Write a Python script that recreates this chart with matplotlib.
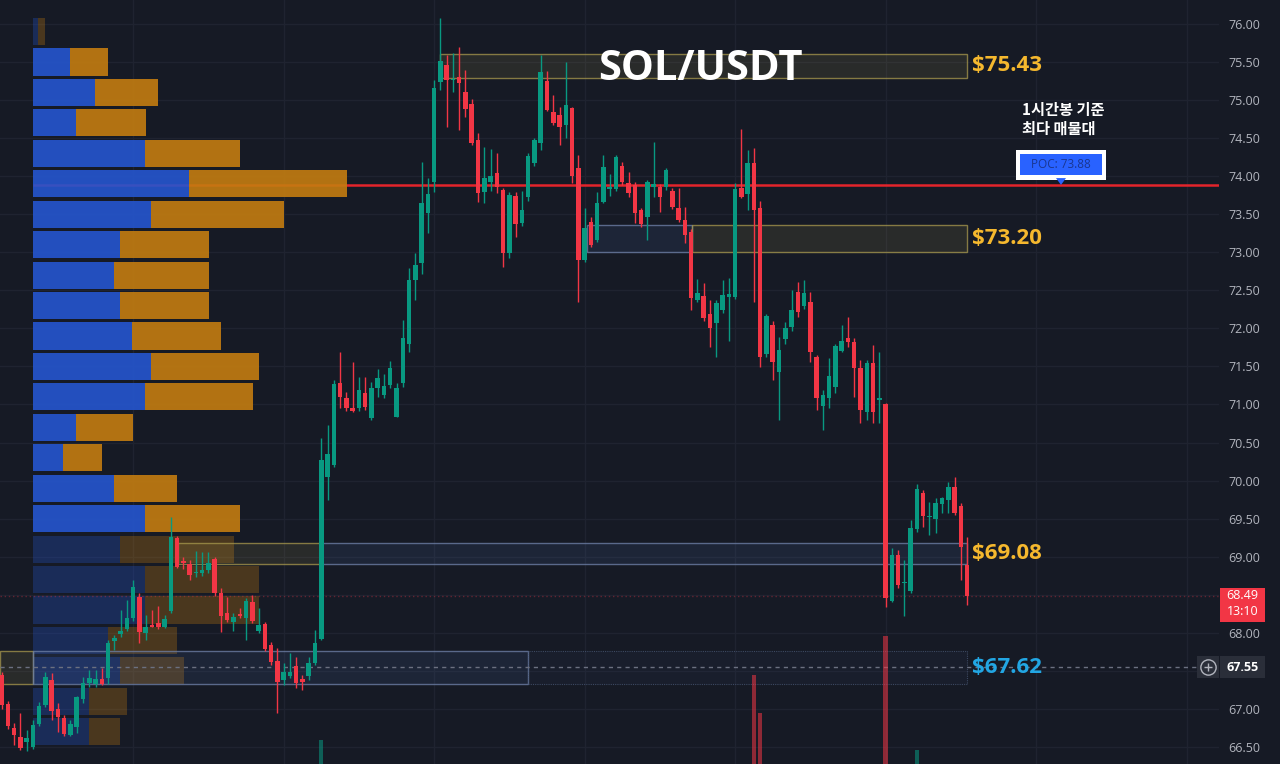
import numpy as np
import matplotlib.pyplot as plt
from matplotlib.patches import Rectangle, Polygon
from matplotlib.transforms import blended_transform_factory

OUT_PATH = "out.png"

BG = "#161a25"
GRID = "#1f2330"
UP = "#089981"
DOWN = "#f23645"
GOLD = "#f5b82e"
SKY = "#22a6e3"
AXIS_TEXT = "#b2b5be"

# 1h candles, oldest first
opens = [
    67.45, 67.06, 66.75, 66.63, 66.56, 66.50, 66.80, 67.05, 67.38, 67.00,
    66.88, 66.66, 66.76, 67.13, 67.34, 67.33, 67.39, 67.40, 67.89, 67.99,
    68.05, 68.20, 68.47, 68.00, 68.10, 68.13, 68.07, 68.29, 69.24, 68.95,
    68.91, 68.78, 68.79, 68.83, 68.97, 68.52, 68.26, 68.14, 68.25, 68.20,
    68.41, 68.02, 68.12, 67.84, 67.63, 67.38, 67.43, 67.56, 67.39, 67.43,
    67.60, 67.92, 70.05, 70.21, 71.28, 71.08, 70.95, 70.95, 71.15, 70.82,
    71.22, 71.13, 71.26, 70.84, 71.28, 71.80, 72.63, 72.86, 73.52, 73.92,
    75.24, 75.46, 75.26, 75.30, 75.11, 74.95, 74.47, 73.79, 73.92, 74.04,
    73.82, 72.99, 73.74, 73.39, 73.72, 74.17, 74.44, 75.25, 74.84, 74.80,
    74.67, 74.90, 74.11, 72.90, 73.40, 73.16, 73.66, 73.83, 73.83, 74.13,
    73.91, 73.88, 73.55, 73.46, 73.86, 73.86, 73.86, 73.81, 73.58, 73.42,
    73.27, 72.37, 72.42, 72.19, 72.07, 72.24, 72.41, 72.41, 73.85, 73.77,
    74.17, 73.58, 71.66, 72.05, 71.43, 71.86, 72.02, 72.48, 72.29, 72.35,
    71.62, 70.98, 71.08, 71.23, 71.70, 71.87, 71.82, 71.48, 70.90, 71.55,
    71.06, 71.00, 68.42, 69.02, 68.65, 68.55, 69.36, 69.84, 69.52, 69.50,
    69.69, 69.75, 69.92, 69.66, 68.89,
]
highs = [
    67.48, 67.10, 66.81, 66.95, 66.72, 66.85, 67.09, 67.49, 67.47, 67.08,
    66.92, 66.85, 67.17, 67.42, 67.51, 67.51, 67.54, 67.90, 67.97, 68.30,
    68.43, 68.70, 68.52, 68.23, 68.30, 68.35, 68.23, 69.52, 69.27, 68.99,
    68.96, 69.07, 69.06, 69.06, 69.00, 68.59, 68.47, 68.26, 68.33, 68.46,
    68.50, 68.33, 68.14, 67.88, 67.80, 67.60, 67.73, 67.68, 67.45, 67.68,
    68.04, 70.56, 70.73, 71.32, 71.69, 71.17, 71.56, 71.36, 71.36, 71.30,
    71.46, 71.40, 71.57, 71.28, 72.11, 72.80, 72.99, 74.18, 73.97, 75.26,
    76.08, 75.59, 75.62, 75.70, 75.40, 75.02, 74.57, 74.38, 74.36, 74.30,
    73.85, 73.79, 73.79, 73.80, 74.31, 74.50, 75.59, 75.38, 75.07, 74.91,
    75.50, 74.91, 74.28, 73.58, 73.46, 73.79, 74.28, 74.03, 74.28, 74.18,
    74.05, 73.92, 73.58, 73.95, 74.45, 73.90, 74.11, 73.85, 73.84, 73.59,
    73.30, 72.65, 72.60, 72.37, 72.37, 72.63, 72.66, 73.91, 74.62, 74.34,
    74.37, 73.68, 72.19, 72.10, 71.89, 72.09, 72.50, 72.61, 72.63, 72.48,
    71.65, 71.19, 71.61, 71.79, 72.04, 72.15, 71.87, 71.59, 71.58, 71.78,
    71.69, 71.02, 69.11, 69.09, 68.96, 69.48, 69.95, 69.88, 69.72, 69.77,
    69.78, 69.98, 70.05, 69.70, 69.26,
]
lows = [
    67.00, 66.74, 66.53, 66.46, 66.45, 66.47, 66.78, 67.03, 66.86, 66.70,
    66.65, 66.64, 66.68, 67.08, 67.29, 67.29, 67.32, 67.33, 67.77, 67.95,
    68.02, 68.15, 67.87, 67.91, 68.07, 68.05, 68.06, 68.26, 68.85, 68.84,
    68.70, 68.73, 68.75, 68.78, 68.49, 68.01, 68.14, 68.03, 68.19, 67.91,
    68.13, 68.00, 67.76, 67.58, 66.95, 67.31, 67.40, 67.27, 67.25, 67.38,
    67.58, 67.91, 69.75, 70.18, 70.95, 70.91, 70.90, 70.92, 70.93, 70.80,
    71.10, 71.09, 71.22, 70.83, 71.23, 71.69, 72.37, 72.72, 73.25, 73.79,
    75.13, 74.65, 75.11, 74.61, 74.78, 74.41, 73.66, 73.65, 73.80, 73.78,
    72.81, 72.92, 73.20, 73.34, 73.68, 74.14, 74.34, 74.85, 74.67, 74.41,
    74.50, 73.91, 72.35, 72.87, 73.07, 73.13, 73.65, 73.74, 73.80, 73.88,
    73.72, 73.38, 73.33, 73.16, 73.72, 73.53, 73.82, 73.57, 73.40, 73.12,
    72.24, 72.35, 72.10, 71.75, 71.62, 72.20, 71.84, 72.39, 73.71, 73.55,
    72.35, 71.49, 71.63, 71.32, 70.80, 71.80, 71.97, 72.15, 72.26, 71.56,
    70.93, 70.66, 70.96, 71.15, 71.69, 71.75, 71.10, 70.76, 70.80, 70.76,
    70.76, 68.34, 68.40, 68.59, 68.22, 68.52, 69.32, 69.39, 69.28, 69.31,
    69.58, 69.58, 69.55, 68.70, 68.36,
]
closes = [
    67.05, 66.78, 66.66, 66.49, 66.62, 66.79, 67.04, 67.42, 66.97, 66.89,
    66.67, 66.80, 67.15, 67.34, 67.41, 67.39, 67.33, 67.86, 67.93, 68.03,
    68.20, 68.60, 68.01, 68.08, 68.08, 68.07, 68.18, 69.26, 68.87, 68.92,
    68.76, 68.80, 68.83, 68.92, 68.52, 68.22, 68.17, 68.21, 68.22, 68.42,
    68.15, 68.10, 67.79, 67.62, 67.35, 67.48, 67.48, 67.34, 67.35, 67.60,
    67.87, 70.27, 70.35, 71.27, 71.10, 70.95, 70.92, 71.19, 70.97, 71.22,
    71.35, 71.24, 71.48, 71.22, 71.87, 72.63, 72.83, 73.65, 73.76, 75.16,
    75.51, 75.26, 75.28, 75.22, 74.88, 74.43, 73.78, 73.98, 74.00, 73.86,
    72.99, 73.75, 73.37, 73.56, 74.27, 74.47, 75.37, 74.87, 74.70, 74.64,
    74.93, 74.00, 72.90, 73.32, 73.10, 73.65, 74.12, 73.86, 74.25, 73.92,
    73.78, 73.51, 73.37, 73.92, 73.90, 73.73, 74.08, 73.59, 73.42, 73.23,
    72.40, 72.46, 72.13, 72.01, 72.33, 72.44, 72.45, 73.83, 73.72, 74.17,
    73.55, 71.62, 72.16, 71.56, 71.72, 72.01, 72.24, 72.21, 72.46, 71.69,
    71.09, 71.12, 71.37, 71.77, 71.83, 71.82, 71.48, 70.93, 71.55, 70.90,
    71.09, 68.46, 69.02, 68.63, 68.67, 69.38, 69.89, 69.53, 69.54, 69.70,
    69.77, 69.92, 69.58, 69.13, 68.49,
]

# candle index of each day start (vertical grid)
day_starts = [21, 45, 69, 93, 117, 141, 165, 189]

# volume spikes that reach into the visible price area
vol_idx = [51, 120, 121, 141, 146]
vol_k = [31, 117, 67, 168, 18]

# volume profile rows, top row first (0.4 per row from 76.10)
vp_top = 76.10
vp_step = 0.4
vp_buy = [5, 37, 62, 43, 112, 156, 118, 87, 81, 87, 99, 118,
          112, 43, 30, 81, 112, 87, 112, 112, 75, 87, 56, 56]
vp_sell = [7, 38, 63, 70, 95, 158, 133, 89, 95, 89, 89, 108,
           108, 57, 39, 63, 95, 114, 114, 114, 69, 64, 38, 31]
va_high = 75.70
va_low = 69.30

poc_price = 73.88
last_price = 68.49
countdown = "13:10"
marker_price = 67.55

zone_labels = ["$75.43", "$73.20", "$69.08", "$67.62"]
zone_colors = [GOLD, GOLD, GOLD, SKY]
zone_top = [75.61, 73.36, 69.18, 67.76]
zone_bottom = [75.29, 73.00, 68.90, 67.33]
zone_end = 154
# (zone, start, end, style)
zone_parts = [
    (0, 69.9, 154, "gold"),
    (1, 93.4, 110.1, "blue"),
    (1, 110.1, 154, "gold"),
    (2, 28.2, 51.1, "gold"),
    (2, 51.1, 154, "blue"),
    (3, -0.3, 5.0, "gold"),
    (3, 5.0, 84.0, "blue"),
    (3, 84.0, 154, "dim"),
]

ZONE_STYLE = {
    "gold": dict(fc=(0.79, 0.71, 0.35, 0.11), ec=(0.66, 0.60, 0.30, 0.75), lw=1.0, ls="-"),
    "blue": dict(fc=(0.30, 0.42, 0.66, 0.14), ec=(0.42, 0.49, 0.64, 0.8), lw=1.0, ls="-"),
    "dim": dict(fc=(0.25, 0.33, 0.50, 0.08), ec=(0.30, 0.36, 0.48, 0.7), lw=0.8, ls=(0, (1, 1))),
}


def main():
    plt.rcParams["font.family"] = ["Open Sans", "Noto Sans CJK KR", "DejaVu Sans"]

    fig = plt.figure(figsize=(12.8, 7.64), dpi=100, facecolor=BG)
    ax_right = 1219 / 1280
    ax = fig.add_axes([0, 0, ax_right, 1])
    ax.set_facecolor(BG)

    step_px = 6.27
    ax.set_xlim(-1.5 / step_px, (1219 - 1.5) / step_px)
    ax.set_ylim(66.276, 76.315)
    idx_per_px = 1 / step_px

    for s in ax.spines.values():
        s.set_visible(False)

    # grid + price scale
    yticks = np.arange(66.5, 76.01, 0.5)
    ax.set_yticks(yticks)
    labels = []
    for v in yticks:
        hidden = abs(v - last_price) < 0.2 or abs(v - marker_price) < 0.2
        labels.append("" if hidden else f"{v:.2f}")
    ax.set_yticklabels(labels)
    ax.yaxis.tick_right()
    ax.tick_params(axis="y", length=0, pad=6.5, labelsize=9, labelcolor=AXIS_TEXT)
    ax.set_xticks(day_starts)
    ax.tick_params(axis="x", length=0, labelbottom=False)
    ax.grid(True, color=GRID, lw=1)
    ax.set_axisbelow(True)

    # volume profile
    rows = len(vp_buy)
    row_mid = vp_top - vp_step * (np.arange(rows) + 0.5)
    vp_left = (33 - 1.5) / step_px
    ax.hlines(poc_price, vp_left, ax.get_xlim()[1], color="#e3242b", lw=1.8, zorder=2.4)
    for i in range(rows):
        inside = va_low <= row_mid[i] <= va_high
        alpha = 0.9 if inside else 0.3
        z = 2.5 if inside else 1.2
        buy_w = vp_buy[i] * idx_per_px
        sell_w = vp_sell[i] * idx_per_px
        ax.barh(row_mid[i], buy_w, left=vp_left, height=vp_step * 0.89,
                color="#2556d0", alpha=alpha, lw=0, zorder=z)
        ax.barh(row_mid[i], sell_w, left=vp_left + buy_w, height=vp_step * 0.89,
                color="#c47d10", alpha=alpha, lw=0, zorder=z)

    # zones
    for zi, x0, x1, style in zone_parts:
        st = ZONE_STYLE[style]
        ax.add_patch(Rectangle((x0, zone_bottom[zi]), x1 - x0, zone_top[zi] - zone_bottom[zi],
                               facecolor=st["fc"], edgecolor=st["ec"], lw=st["lw"],
                               ls=st["ls"], zorder=1.8))
    for zi, lab in enumerate(zone_labels):
        mid = (zone_top[zi] + zone_bottom[zi]) / 2
        ax.text(zone_end + 0.8, mid, lab, color=zone_colors[zi], fontsize=16,
                fontweight="bold", ha="left", va="center", zorder=6)

    # reference lines
    ax.axhline(last_price, color=DOWN, alpha=0.35, lw=1, ls=(0, (1, 2)), zorder=1.5)
    ax.axhline(marker_price, color="#6b7080", lw=1, ls=(0, (3, 3)), zorder=1.9)

    # volume spikes
    o = np.array(opens)
    c = np.array(closes)
    ybot = ax.get_ylim()[0]
    vol_scale = 0.01
    vol_col = [UP if c[i] >= o[i] else DOWN for i in vol_idx]
    ax.bar(vol_idx, np.array(vol_k) * vol_scale, bottom=ybot, width=0.7,
           color=vol_col, alpha=0.55, lw=0, zorder=2)

    # candles
    x = np.arange(len(opens))
    h = np.array(highs)
    l = np.array(lows)
    colors = np.where(c >= o, UP, DOWN)
    ax.vlines(x, l, h, colors=colors, lw=1, zorder=3)
    body_low = np.minimum(o, c)
    body_h = np.maximum(np.abs(c - o), 0.015)
    ax.bar(x, body_h, bottom=body_low, width=0.72, color=colors, lw=0, zorder=4)

    # title
    ax.text(700 / 1219, 1 - 70 / 764, "SOL/USDT", transform=ax.transAxes,
            color="white", fontsize=30, fontweight="bold", ha="center", va="center", zorder=6)

    # POC label
    poc_x = (1061 - 1.5) / step_px
    poc_y = poc_price + 0.27
    ax.add_patch(Rectangle((poc_x - 45 * idx_per_px, poc_y - 0.197), 90 * idx_per_px, 0.394,
                           facecolor="white", lw=0, zorder=6))
    ax.add_patch(Rectangle((poc_x - 41 * idx_per_px, poc_y - 0.14), 82 * idx_per_px, 0.28,
                           facecolor="#2962ff", lw=0, zorder=7))
    ax.text(poc_x, poc_y, f"POC: {poc_price:.2f}", color="#1a3690", fontsize=8.5,
            ha="center", va="center", zorder=8)
    ax.add_patch(Polygon([[poc_x - 5 * idx_per_px, poc_price + 0.095],
                          [poc_x + 5 * idx_per_px, poc_price + 0.095],
                          [poc_x, poc_price + 0.005]],
                         closed=True, facecolor="#2962ff", lw=0, zorder=7))
    ax.text((1022 - 1.5) / step_px, poc_price + 0.865, "1시간봉 기준\n최다 매물대",
            color="white", fontsize=11, fontweight="bold", ha="left", va="center",
            linespacing=1.25, family=["Noto Sans CJK KR", "DejaVu Sans"], zorder=6)

    # price-scale badges
    trans = blended_transform_factory(fig.transFigure, ax.transData)
    bx0 = 1220 / 1280
    bw = 45 / 1280
    bcx = bx0 + bw / 2
    ax.add_patch(Rectangle((bx0, last_price - 0.345), bw, 0.445, transform=trans,
                           facecolor=DOWN, lw=0, clip_on=False, zorder=10))
    ax.text(bcx, last_price, f"{last_price:.2f}", transform=trans, color="white",
            fontsize=9, ha="center", va="center", clip_on=False, zorder=11)
    ax.text(bcx, last_price - 0.205, countdown, transform=trans, color="white",
            fontsize=9, ha="center", va="center", clip_on=False, zorder=11)

    ax.add_patch(Rectangle((bx0, marker_price - 0.145), bw, 0.29, transform=trans,
                           facecolor="#2a2e39", lw=0, clip_on=False, zorder=10))
    ax.text(bcx, marker_price, f"{marker_price:.2f}", transform=trans, color="white",
            fontsize=9, fontweight="bold", ha="center", va="center", clip_on=False, zorder=11)
    ax.add_patch(Rectangle((1197 / 1280, marker_price - 0.145), 22 / 1280, 0.29, transform=trans,
                           facecolor="#2a2e39", lw=0, clip_on=False, zorder=10))
    ax.plot([1208 / 1280], [marker_price], marker="o", ms=11, mfc="none", mec=AXIS_TEXT,
            mew=1, transform=trans, clip_on=False, zorder=11)
    ax.plot([1208 / 1280], [marker_price], marker="+", ms=6, mec=AXIS_TEXT,
            mew=1, transform=trans, clip_on=False, zorder=11)

    fig.savefig(OUT_PATH, dpi=100, facecolor=BG)
    plt.close(fig)


if __name__ == "__main__":
    main()
